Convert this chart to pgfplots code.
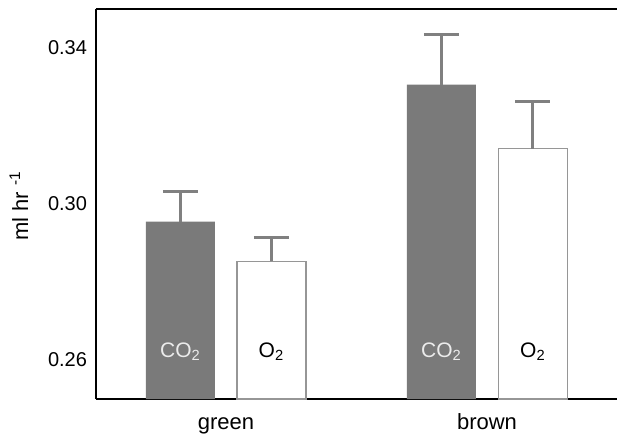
\documentclass[border=0pt]{standalone}
\usepackage{pgfplots}
\pgfplotsset{compat=1.18}
\usepackage{fontspec}
\setmainfont{Liberation Sans}
\usetikzlibrary{calc}
\definecolor{barfill}{RGB}{122,122,122}
\definecolor{errc}{RGB}{128,128,128}
\definecolor{o2edge}{RGB}{150,150,150}
\begin{document}
\begin{tikzpicture}
\begin{axis}[
  scale only axis,
  width=260.5pt, height=195pt,
  xmin=96, xmax=617,
  ymin=0.25, ymax=0.35,
  axis x line*=box, axis y line*=left,
  axis line style={black, line width=1pt},
  ytick={0.26,0.30,0.34},
  yticklabels={0.26,0.30,0.34},
  xtick={226,487}, xticklabels={green,brown},
  major tick length=0pt,
  yticklabel style={font=\fontsize{10}{12}\selectfont, anchor=east, xshift=-1pt},
  xticklabel style={font=\fontsize{11}{13}\selectfont, anchor=base, yshift=-15pt},
  ylabel={ml hr \textsuperscript{-1}},
  ylabel style={font=\fontsize{11}{13}\selectfont, at={(axis description cs:-0.148,0.495)}, anchor=center},
  clip=true,
]
\addplot[ybar, bar width=69, fill=barfill, draw=none,
  error bars/.cd, y dir=plus, y explicit,
  error bar style={errc, line width=1.5pt},
  error mark options={rotate=90, errc, line width=1.5pt, mark size=8.75pt}]
  coordinates {(180.5,0.2955) +- (0,0.0077) (441.5,0.3306) +- (0,0.0128)};
\addplot[ybar, bar width=69, fill=white, draw=o2edge, line width=0.75pt,
  error bars/.cd, y dir=plus, y explicit,
  error bar style={errc, line width=1.5pt},
  error mark options={rotate=90, errc, line width=1.5pt, mark size=8.75pt}]
  coordinates {(271.5,0.2853) +- (0,0.0061) (533,0.3142) +- (0,0.0120)};
\node[text=white!92!black, font=\fontsize{10.5}{12}\selectfont] at (axis cs:180.5,0.2622) {CO\textsubscript{2}};
\node[text=black, font=\fontsize{10.5}{12}\selectfont] at (axis cs:271.5,0.2622) {O\textsubscript{2}};
\node[text=white!92!black, font=\fontsize{10.5}{12}\selectfont] at (axis cs:441.5,0.2622) {CO\textsubscript{2}};
\node[text=black, font=\fontsize{10.5}{12}\selectfont] at (axis cs:533,0.2622) {O\textsubscript{2}};
\end{axis}
\pgfresetboundingbox
\path[use as bounding box] ($(current axis.south west)+(-48pt,-21pt)$) rectangle ($(current axis.north east)+(0pt,4.5pt)$);
\end{tikzpicture}
\end{document}
